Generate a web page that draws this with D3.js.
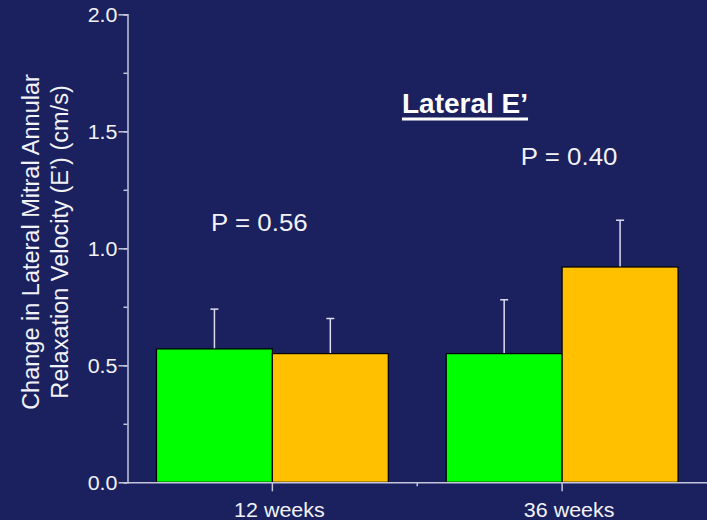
<!DOCTYPE html>
<html><head><meta charset="utf-8">
<script src="https://cdn.jsdelivr.net/npm/d3@7"></script>
<style>html,body{margin:0;padding:0;background:#1a215e;}svg{display:block;font-family:"Liberation Sans",Arial,sans-serif;}</style>
</head><body>
<svg id="c" width="707" height="520"></svg>
<script>
const categories = ["12 weeks", "36 weeks"];
const seriesNames = ["Group A", "Group B"];
const seriesColors = ["#00ff00", "#ffc000"];
const greenValues = [0.57, 0.55];
const greenErrors = [0.17, 0.23];
const orangeValues = [0.55, 0.92];
const orangeErrors = [0.15, 0.20];
const yTicks = [0.0, 0.5, 1.0, 1.5, 2.0];
const pLabels = ["P = 0.56", "P = 0.40"];
const pPositions = [1.074, 1.356];

const svg = d3.select("#c");
const W = 707, H = 520;
const m = {left: 127.5, right: 0, top: 14.3, bottom: 37.7};
const y0 = H - m.bottom;
const y = d3.scaleLinear().domain([0, 2]).range([y0, m.top]);
const x = d3.scaleBand().domain(categories).range([m.left, W]).paddingInner(0).paddingOuter(0);
const inner = d3.scaleBand().domain([0, 1]).range([0, x.bandwidth()]).paddingOuter(0.25).paddingInner(0);

const axisColor = "#c4c6dc";
const textColor = "#f2f2f8";
const SX = 1.1;

function stretchText(sel, px, py) {
  sel.attr("transform", (d, i) => `translate(${px(d, i)},${py(d, i)}) scale(${SX},1)`).attr("x", 0).attr("y", 0);
}

// minor ticks
const yAxisG = svg.append("g").attr("transform", `translate(${m.left},0)`)
  .call(d3.axisLeft(y).tickValues(d3.range(0, 2.01, 0.25)).tickSize(4).tickFormat(""));
yAxisG.selectAll("path,line").attr("stroke", axisColor).attr("stroke-width", 1.5);
const yMajor = svg.append("g").attr("transform", `translate(${m.left},0)`)
  .call(d3.axisLeft(y).tickValues(yTicks).tickSize(9).tickPadding(1).tickFormat(d3.format(".1f")));
yMajor.select("path").remove();
yMajor.selectAll("line").attr("stroke", axisColor).attr("stroke-width", 1.5);
yMajor.selectAll("text").attr("fill", textColor).attr("font-size", 19.5).attr("font-family", "Liberation Sans, Arial, sans-serif")
  .attr("dy", null).attr("dominant-baseline", null)
  .attr("transform", `translate(-10,7) scale(${SX},1)`).attr("x", 0);

const data = categories.map((c, i) => ({cat: c, vals: [greenValues[i], orangeValues[i]], errs: [greenErrors[i], orangeErrors[i]]}));

const groups = svg.selectAll("g.grp").data(data).join("g").attr("class", "grp")
  .attr("transform", d => `translate(${x(d.cat)},0)`);
groups.selectAll("line.err").data(d => d.vals.map((v, j) => ({v, e: d.errs[j], j}))).join("line")
  .attr("class", "err")
  .attr("x1", d => inner(d.j) + inner.bandwidth() / 2).attr("x2", d => inner(d.j) + inner.bandwidth() / 2)
  .attr("y1", d => y(d.v)).attr("y2", d => y(d.v + d.e))
  .attr("stroke", "#dcdcf0").attr("stroke-width", 1.5);
groups.selectAll("line.cap").data(d => d.vals.map((v, j) => ({v, e: d.errs[j], j}))).join("line")
  .attr("class", "cap")
  .attr("x1", d => inner(d.j) + inner.bandwidth() / 2 - 4).attr("x2", d => inner(d.j) + inner.bandwidth() / 2 + 4)
  .attr("y1", d => y(d.v + d.e)).attr("y2", d => y(d.v + d.e))
  .attr("stroke", "#dcdcf0").attr("stroke-width", 1.5);
groups.selectAll("rect").data(d => d.vals.map((v, j) => ({v, j}))).join("rect")
  .attr("x", d => inner(d.j)).attr("width", inner.bandwidth())
  .attr("y", d => y(d.v)).attr("height", d => y0 - y(d.v))
  .attr("fill", d => seriesColors[d.j]).attr("stroke", "#000").attr("stroke-width", 1.2);

// x axis
const xAxisG = svg.append("g").attr("transform", `translate(0,${y0})`)
  .call(d3.axisBottom(x).tickSize(9).tickSizeOuter(0).tickFormat(""));
xAxisG.select("path").attr("stroke", axisColor).attr("stroke-width", 1.5);
xAxisG.selectAll("line").attr("stroke", axisColor).attr("stroke-width", 1.5);
svg.append("g").selectAll("line").data(categories.slice(1)).join("line")
  .attr("x1", d => x(d)).attr("x2", d => x(d)).attr("y1", y0).attr("y2", y0 + 4)
  .attr("stroke", axisColor).attr("stroke-width", 1.5);
const catT = svg.append("g").selectAll("text").data(categories).join("text")
  .attr("text-anchor", "middle").attr("fill", textColor).attr("font-size", 19.5).text(d => d);
stretchText(catT, d => x(d) + x.bandwidth() / 2 + 7, () => y0 + 35);

// y title
const yt = svg.append("text").attr("transform", `translate(0,242) rotate(-90)`)
  .attr("text-anchor", "middle").attr("fill", textColor).attr("font-size", 23.5);
yt.append("tspan").attr("x", 0).attr("y", 39).text("Change in Lateral Mitral Annular");
yt.append("tspan").attr("x", 0).attr("y", 68).text("Relaxation Velocity (E’) (cm/s)");

// title with thick underline
const title = svg.append("text").attr("x", 465).attr("y", 113).attr("text-anchor", "middle")
  .attr("fill", "#ffffff").attr("font-size", 28).attr("font-weight", "bold")
  .text("Lateral E’");
const tb = title.node().getBBox();
svg.append("rect").attr("x", tb.x).attr("width", tb.width).attr("y", 117.5).attr("height", 3).attr("fill", "#ffffff");

// P labels
const pOff = [-13, 7];
const pT = svg.append("g").selectAll("text").data(categories).join("text")
  .attr("text-anchor", "middle").attr("fill", textColor).attr("font-size", 23.5)
  .text((d, i) => pLabels[i]);
stretchText(pT, (d, i) => x(d) + x.bandwidth() / 2 + pOff[i], (d, i) => y(pPositions[i]));
</script>
</body></html>
